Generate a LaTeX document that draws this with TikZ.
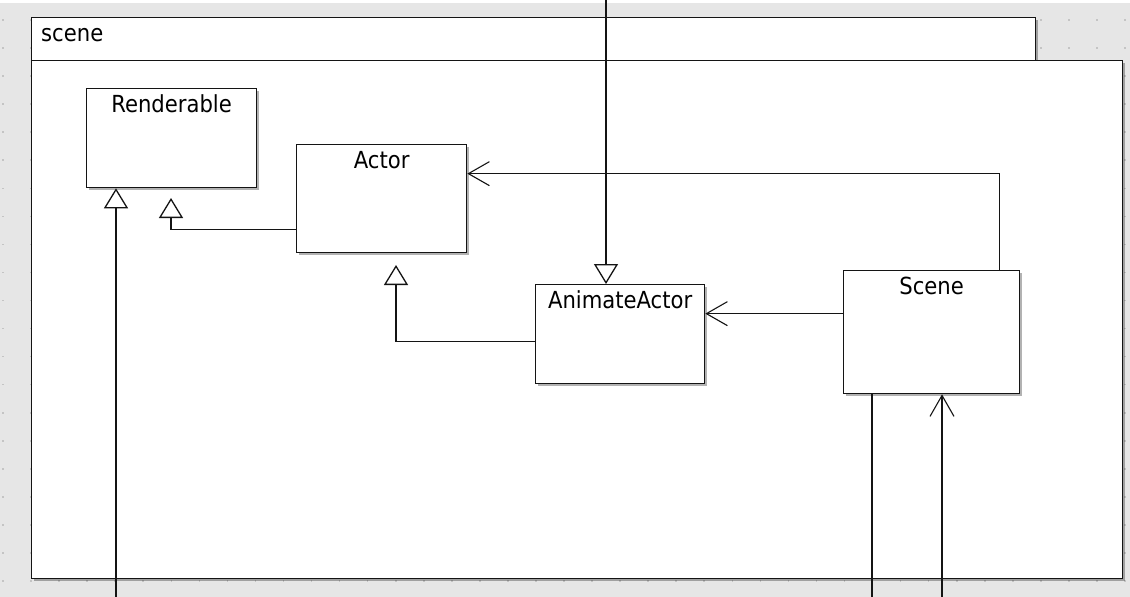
\documentclass[tikz,border=0pt]{standalone}
\usepackage{fontspec}
\setmainfont{DejaVu Sans Condensed}
\usetikzlibrary{arrows.meta,shadows,calc}
\definecolor{bggray}{RGB}{230,230,230}
\definecolor{dotgray}{RGB}{196,196,196}
\definecolor{ink}{RGB}{20,20,20}
\begin{document}
\begin{tikzpicture}[x=1pt,y=-1pt,
  shad/.style={drop shadow={shadow xshift=2pt,shadow yshift=-2pt,fill=black,opacity=0.3}},
  boxbase/.style={draw=ink,fill=white,line width=1.3pt,shad,inner sep=0,anchor=north west},
  classbox/.style={boxbase},
  cname/.style={anchor=base,inner sep=0,yshift=-24pt,font=\fontsize{23.5}{28}\selectfont},
  conn/.style={draw=ink,line width=1.3pt},
  inh/.style={conn,-{Triangle[length=20pt,width=24pt,fill=white,line width=1.3pt]}},
  assoc/.style={conn,-{Straight Barb[length=21pt,width=24pt,line width=1.1pt]}}
]
\useasboundingbox (0,0) rectangle (1130,597);
% background
\fill[white] (0,0) rectangle (1130,597);
\fill[bggray] (0,3) rectangle (1130,597);
\foreach \i in {0,...,40}{
  \foreach \j in {0,...,20}{
    \fill[dotgray] ({3+28.05*\i-0.8},{20+28.05*\j-0.8}) rectangle ++(1.6,1.6);
  }
}
% package
\node[boxbase,minimum width=1004pt,minimum height=43pt] (tab) at (31,17) {};
\node[boxbase,minimum width=1091pt,minimum height=518pt] (pkg) at (31,60) {};
\node[anchor=base west,inner sep=0,font=\fontsize{23.5}{28}\selectfont] (pkgname) at (41,41) {scene};
% classes
\node[classbox,minimum width=170pt,minimum height=99pt,label={[cname]north:Renderable}] (ren) at (86,88) {};
\node[classbox,minimum width=170pt,minimum height=108pt,label={[cname]north:Actor}] (actor) at (296,144) {};
\node[classbox,minimum width=169pt,minimum height=99pt,label={[cname]north:AnimateActor}] (aa) at (535,284) {};
\node[classbox,minimum width=176pt,minimum height=123pt,label={[cname]north:Scene}] (scene) at (843,270) {};
% free ends
\coordinate (b1) at (116,597);
\coordinate (t2) at (171,198);
\coordinate (t3) at (396,265);
\coordinate (top) at (606,0);
\coordinate (b7) at (872,597);
\coordinate (b8) at (942,597);
% connectors
\draw[inh] (b1) -- (b1 |- ren.south);
\draw[inh] ([yshift=-31pt]actor.west) -| (t2);
\draw[inh] ([yshift=-7.5pt]aa.west) -| (t3);
\draw[inh] (top) -- (top |- aa.north);
\draw[assoc] ([yshift=18.5pt]scene.west) -- ([yshift=18.5pt]scene.west -| aa.east);
\draw[assoc] ([xshift=68pt]scene.north) |- ([yshift=25pt]actor.east);
\draw[conn] (b7 |- scene.south) -- (b7);
\draw[assoc] (b8) -- (b8 |- scene.south);
\end{tikzpicture}
\end{document}
